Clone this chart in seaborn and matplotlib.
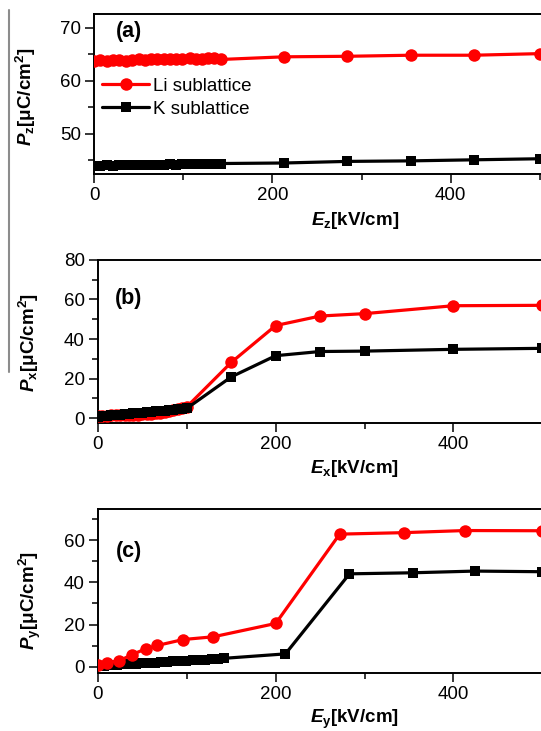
import matplotlib
matplotlib.use("Agg")
import matplotlib.pyplot as plt
from matplotlib.lines import Line2D
from matplotlib.ticker import MultipleLocator
import seaborn as sns

# ---- data -------------------------------------------------------------
# (a) field along z
E_z = [0, 7, 14, 21, 28, 36, 43, 50, 57, 64, 71, 78, 85, 92, 99, 107, 114,
       121, 128, 135, 142, 213, 284, 355, 426, 500]
Li_z = [63.8, 63.9, 63.8, 63.9, 63.9, 63.8, 63.9, 64.0, 63.9, 64.0, 64.0,
        64.1, 64.0, 64.1, 64.1, 64.3, 64.1, 64.0, 64.2, 64.3, 64.0, 64.5,
        64.6, 64.8, 64.8, 65.1]
K_z = [44.0, 44.0, 44.1, 44.0, 44.1, 44.1, 44.1, 44.2, 44.1, 44.2, 44.2,
       44.2, 44.3, 44.2, 44.3, 44.3, 44.3, 44.4, 44.3, 44.4, 44.4, 44.5,
       44.8, 44.9, 45.1, 45.3]

# (b) field along x
E_x = [0, 5, 10, 15, 20, 25, 30, 35, 40, 45, 50, 55, 60, 65, 70, 75, 80,
       85, 90, 95, 100, 150, 200, 250, 300, 400, 500]
Li_x = [1.0, 1.2, 1.4, 1.5, 1.6, 1.7, 1.7, 1.8, 1.8, 1.9, 2.0, 2.1, 2.3,
        2.5, 2.8, 3.1, 3.5, 4.0, 4.6, 5.2, 5.8, 28.2, 46.8, 51.6, 52.8,
        56.8, 57.0]
K_x = [0.8, 1.0, 1.3, 1.5, 1.7, 1.9, 2.1, 2.3, 2.5, 2.7, 2.9, 3.1, 3.3,
       3.5, 3.7, 3.9, 4.1, 4.3, 4.6, 4.8, 5.0, 20.9, 31.6, 33.7, 33.9,
       34.8, 35.3]

# (c) field along y
E_y_Li = [0, 10, 24, 38, 54, 67, 96, 130, 200, 272, 344, 413, 500]
Li_y = [0.8, 2.0, 2.8, 5.7, 8.5, 10.1, 12.9, 14.2, 20.5, 62.8, 63.5, 64.5,
        64.4]
E_y_K = [0, 7, 14, 21, 28, 36, 43, 50, 57, 64, 71, 78, 85, 92, 99, 107,
         114, 121, 128, 135, 142, 211, 283, 354, 424, 500]
K_y = [0.3, 0.5, 0.7, 0.9, 1.1, 1.3, 1.5, 1.6, 1.8, 2.0, 2.2, 2.3, 2.5,
       2.7, 2.9, 3.0, 3.2, 3.4, 3.6, 3.8, 4.0, 6.1, 44.0, 44.5, 45.3, 45.0]

series_names = ["Li sublattice", "K sublattice"]
x_labels = [r"$E_{\mathrm{z}}$[kV/cm]", r"$E_{\mathrm{x}}$[kV/cm]",
            r"$E_{\mathrm{y}}$[kV/cm]"]
y_labels = [r"$P_{\mathrm{z}}$[μC/cm$^{\mathrm{2}}$]",
            r"$P_{\mathrm{x}}$[μC/cm$^{\mathrm{2}}$]",
            r"$P_{\mathrm{y}}$[μC/cm$^{\mathrm{2}}$]"]
panel_tags = ["(a)", "(b)", "(c)"]

# ---- style ------------------------------------------------------------
sns.set_style("ticks")
plt.rcParams["font.family"] = ["Liberation Sans", "DejaVu Sans"]
plt.rcParams["mathtext.fontset"] = "custom"
plt.rcParams["mathtext.it"] = "Liberation Sans:italic:bold"
plt.rcParams["mathtext.rm"] = "Liberation Sans:bold"
plt.rcParams["mathtext.bf"] = "Liberation Sans:bold"
for key in ["text.color", "axes.labelcolor", "xtick.color", "ytick.color",
            "axes.edgecolor", "xtick.labelcolor", "ytick.labelcolor"]:
    plt.rcParams[key] = "black"

RED = "#ff0000"
BLACK = "#000000"
LW = 2.3

fig = plt.figure(figsize=(5.41, 7.31), dpi=100)

# axes rectangles [left, bottom, width, height]
rects = [
    [0.1740, 0.7625, 0.8260, 0.2186],
    [0.1810, 0.4215, 0.8190, 0.2232],
    [0.1810, 0.0795, 0.8190, 0.2242],
]
ylims = [(42.5, 72.6), (-2.3, 80), (-2.9, 74.7)]
xlims = [(0, 501.3), (0, 498.5), (0, 498.5)]
y_major = [10, 20, 20]
tag_pos = [(0.077, 0.892), (0.070, 0.765), (0.070, 0.738)]
ylab_pos = [(-0.125, 0.48), (-0.128, 0.49), (-0.125, 0.44)]
xlab_pos = [(0.583, -0.225), (0.579, -0.215), (0.579, -0.21)]

panels = [
    (E_z, Li_z, E_z, K_z, False),
    (E_x, Li_x, E_x, K_x, False),
    (E_y_Li, Li_y, E_y_K, K_y, True),
]

for i, (xl, yl, xk, yk, red_on_top) in enumerate(panels):
    ax = fig.add_axes(rects[i])
    z_red, z_blk = (4, 3) if red_on_top else (3, 4)
    sns.lineplot(x=xl, y=yl, ax=ax, color=RED, lw=LW, marker="o",
                 markersize=9, markeredgewidth=0, estimator=None,
                 label=series_names[0], zorder=z_red)
    sns.lineplot(x=xk, y=yk, ax=ax, color=BLACK, lw=LW, marker="s",
                 markersize=7.8, markeredgewidth=0, estimator=None,
                 label=series_names[1], zorder=z_blk)

    ax.set_xlim(*xlims[i])
    ax.set_ylim(*ylims[i])
    ax.xaxis.set_major_locator(MultipleLocator(200))
    ax.xaxis.set_minor_locator(MultipleLocator(100))
    ax.yaxis.set_major_locator(MultipleLocator(y_major[i]))
    ax.yaxis.set_minor_locator(MultipleLocator(y_major[i] / 2))

    for side in ["left", "bottom", "top"]:
        ax.spines[side].set_linewidth(1.4)
        ax.spines[side].set_color("black")
        ax.spines[side].set_visible(True)
    ax.spines["right"].set_visible(False)

    ax.tick_params(which="major", direction="out", length=6.5, width=1.1,
                   labelsize=13.5, pad=3, top=False, right=False,
                   colors="black")
    ax.tick_params(which="minor", direction="out", length=4, width=1.1,
                   top=False, right=False, colors="black")

    ax.set_xlabel(x_labels[i], fontsize=13.5, fontweight="bold",
                  color="black")
    ax.set_ylabel(y_labels[i], fontsize=13.5, fontweight="bold",
                  color="black")
    ax.xaxis.set_label_coords(*xlab_pos[i])
    ax.yaxis.set_label_coords(*ylab_pos[i])

    ax.text(tag_pos[i][0], tag_pos[i][1], panel_tags[i], transform=ax.transAxes,
            ha="center", va="center", fontsize=15.5, fontweight="bold",
            color="black")

    if i == 0:
        ax.legend(loc="center left", bbox_to_anchor=(0.018, 0.475),
                  frameon=False, fontsize=13.5, handlelength=2.5,
                  handletextpad=0.2, labelspacing=0.3, borderpad=0,
                  borderaxespad=0, labelcolor="black")
    else:
        leg = ax.get_legend()
        if leg is not None:
            leg.remove()

# thin grey rule along the left margin
fig.add_artist(Line2D([9 / 541, 9 / 541], [1 - 10 / 731, 1 - 372 / 731],
                      color="#8c8c8c", lw=1.5))

fig.savefig("out.png", dpi=100)
